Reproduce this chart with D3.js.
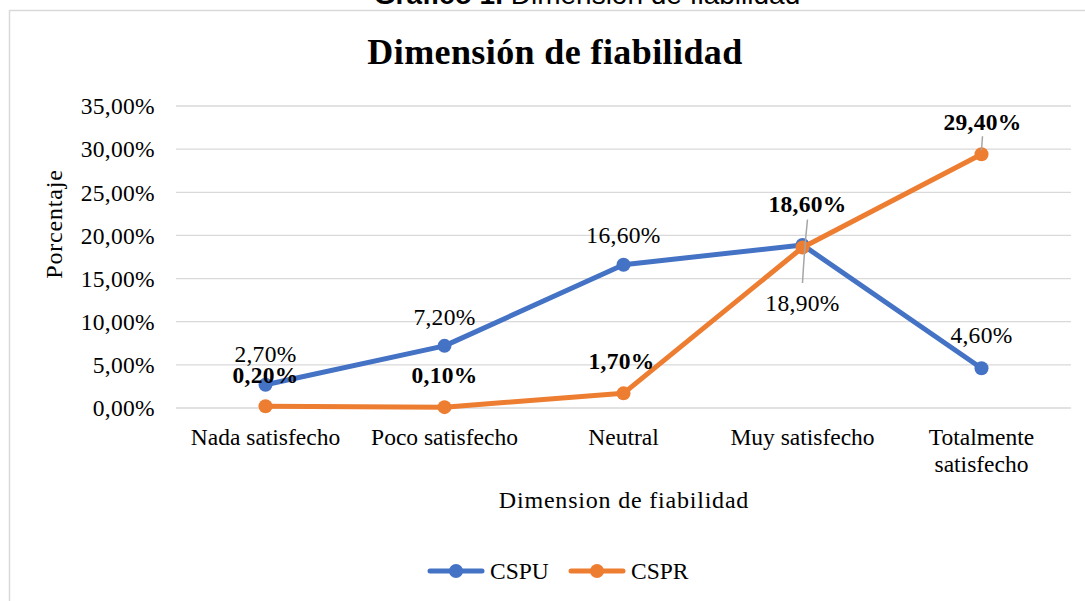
<!DOCTYPE html>
<html><head><meta charset="utf-8">
<script src="https://cdn.jsdelivr.net/npm/d3@7"></script>
<style>body{margin:0;background:#fff;} svg{display:block;}</style>
</head><body>
<svg id="c" width="1085" height="601"></svg>
<script>
const categories = ["Nada satisfecho","Poco satisfecho","Neutral","Muy satisfecho","Totalmente satisfecho"];
const cspu = [2.70, 7.20, 16.60, 18.90, 4.60];
const cspr = [0.20, 0.10, 1.70, 18.60, 29.40];
const yTicks = [0,5,10,15,20,25,30,35];
const seriesNames = ["CSPU","CSPR"];
const colors = ["#4472C4","#ED7D31"];

const svg = d3.select("#c");
const serif = "'Liberation Serif','Times New Roman',serif";
const FS = 23.5;
const fmt = v => d3.format(".2f")(v).replace(".", ",") + "%";

// caption (cropped at top)
svg.append("text").attr("x",587).attr("y",4).attr("text-anchor","middle")
  .attr("font-family","'Liberation Sans',Arial,sans-serif").attr("font-size",28)
  .html('<tspan font-weight="bold">Gráfico 1.</tspan> Dimensión de fiabilidad');
// frame
svg.append("rect").attr("x",9.5).attr("y",10.5).attr("width",1090).attr("height",600)
  .attr("fill","none").attr("stroke","#d9d9d9").attr("stroke-width",1.5);

const L=176, R=1071, T=106, B=408;
const x = d3.scaleBand().domain(categories).range([L,R]);
const y = d3.scaleLinear().domain([0,35]).range([B,T]);

// grid
svg.append("g").selectAll("line").data(yTicks).join("line")
  .attr("x1",L).attr("x2",R).attr("y1",d=>y(d)).attr("y2",d=>y(d))
  .attr("stroke","#d9d9d9").attr("stroke-width",1.3);

// y axis labels
const yAxis = svg.append("g").attr("transform",`translate(${L},0)`)
  .call(d3.axisLeft(y).tickValues(yTicks).tickSize(0).tickPadding(21).tickFormat(fmt));
yAxis.select(".domain").remove();
yAxis.selectAll("text").attr("font-family",serif).attr("font-size",FS).attr("fill","#000").attr("dy","0.33em").attr("letter-spacing",0.3);

// x axis labels
const xAxis = svg.append("g").attr("transform",`translate(0,${B})`)
  .call(d3.axisBottom(x).tickSize(0).tickPadding(0).tickFormat(""));
xAxis.select(".domain").remove();
xAxis.selectAll(".tick").each(function(d){
  const g = d3.select(this);
  const words = d==="Totalmente satisfecho" ? ["Totalmente","satisfecho"] : [d];
  words.forEach((w,i)=>g.append("text").attr("y",37+i*27).attr("text-anchor","middle")
    .attr("font-family",serif).attr("font-size",FS).attr("fill","#000").text(w));
});

// titles
svg.append("text").attr("x",555).attr("y",64).attr("text-anchor","middle")
  .attr("font-family",serif).attr("font-size",36).attr("font-weight","bold").attr("letter-spacing",0.4).text("Dimensión de fiabilidad");
svg.append("text").attr("x",624).attr("y",508).attr("text-anchor","middle")
  .attr("font-family",serif).attr("font-size",24).attr("letter-spacing",0.8).text("Dimension de fiabilidad");
svg.append("text").attr("transform","translate(62,224) rotate(-90)").attr("text-anchor","middle")
  .attr("font-family",serif).attr("font-size",24).attr("letter-spacing",0.8).text("Porcentaje");

const cx = c => x(c)+x.bandwidth()/2;
const line = d3.line().x((d,i)=>cx(categories[i])).y(d=>y(d));
[cspu,cspr].forEach((s,k)=>{
  svg.append("path").datum(s).attr("d",line).attr("fill","none")
    .attr("stroke",colors[k]).attr("stroke-width",5).attr("stroke-linejoin","round").attr("stroke-linecap","round");
  svg.append("g").selectAll("circle").data(s).join("circle")
    .attr("cx",(d,i)=>cx(categories[i])).attr("cy",d=>y(d)).attr("r",7).attr("fill",colors[k]);
});

// leader lines
const lead = svg.append("g").attr("stroke","#a6a6a6").attr("stroke-width",1.5).attr("fill","none");
lead.append("path").attr("d",`M${cx(categories[3])+5},${y(cspr[3])-28} Q${cx(categories[3])+2},${y(cspr[3])} ${cx(categories[3])},${y(cspu[3])+38}`);
lead.append("line").attr("x1",cx(categories[4])+1).attr("y1",y(cspr[4])-18).attr("x2",cx(categories[4])).attr("y2",y(cspr[4])-4);

// data labels: blue regular, orange bold
const cspuDy = [-23,-21,-22,null,-25];
const cspuBelow = [null,null,null,66,null];
cspu.forEach((v,i)=>{
  const yy = cspuBelow[i]!=null ? y(v)+cspuBelow[i] : y(v)+cspuDy[i];
  svg.append("text").attr("x",cx(categories[i])).attr("y",yy).attr("text-anchor","middle")
    .attr("font-family",serif).attr("font-size",FS).attr("letter-spacing",0.3).attr("fill","#000").text(fmt(v));
});
const csprDy = [-23,-24,-24,-36,-24];
const csprDx = [0,0,-2,5,1];
cspr.forEach((v,i)=>{
  svg.append("text").attr("x",cx(categories[i])+csprDx[i]).attr("y",y(v)+csprDy[i]).attr("text-anchor","middle")
    .attr("font-family",serif).attr("font-size",FS).attr("font-weight","bold").attr("letter-spacing",0.3).attr("fill","#000").text(fmt(v));
});

// legend
const leg = svg.append("g");
[[430,490],[571,631]].forEach(([lx,tx],k)=>{
  leg.append("line").attr("x1",lx).attr("x2",lx+52).attr("y1",571).attr("y2",571)
    .attr("stroke",colors[k]).attr("stroke-width",5).attr("stroke-linecap","round");
  leg.append("circle").attr("cx",lx+26).attr("cy",571).attr("r",7).attr("fill",colors[k]);
  leg.append("text").attr("x",tx).attr("y",579).attr("font-family",serif).attr("font-size",FS).text(seriesNames[k]);
});
</script>
</body></html>
